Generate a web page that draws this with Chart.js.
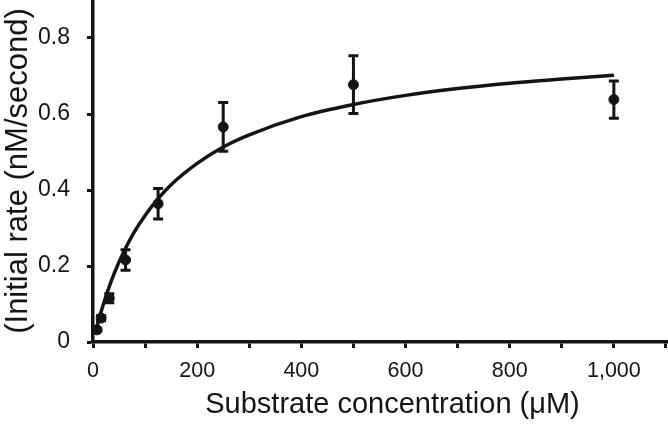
<!DOCTYPE html>
<html>
<head>
<meta charset="utf-8">
<script src="https://cdn.jsdelivr.net/npm/chart.js@4/dist/chart.umd.min.js"></script>
<style>
  html, body { margin: 0; padding: 0; background: #fff; overflow: hidden; }
  #wrap { width: 668px; height: 430px; overflow: hidden; }
  canvas { display: block; }
</style>
</head>
<body>
<div id="wrap"><canvas id="chart" width="692" height="430"></canvas></div>
<script>
// ===== DATA =====
const concentrations = [7.8, 15.6, 31.25, 62.5, 125, 250, 500, 1000];
const rates          = [0.032, 0.063, 0.115, 0.216, 0.364, 0.566, 0.677, 0.638];
const rateErrors     = [0.004, 0.007, 0.012, 0.027, 0.040, 0.064, 0.076, 0.049];

// fitted curve
const fitX = [7.8, 15, 25, 40, 60, 80, 100, 125, 150, 200, 250, 300, 400, 500, 600, 700, 800, 900, 1000];
const fitY = [0.042, 0.077, 0.121, 0.178, 0.240, 0.291, 0.333, 0.377, 0.414, 0.470, 0.513, 0.545, 0.593, 0.625, 0.649, 0.667, 0.681, 0.692, 0.702];

const xTicks = [0, 100, 200, 300, 400, 500, 600, 700, 800, 900, 1000, 1100];
const yTicks = [0, 0.2, 0.4, 0.6, 0.8];

const INK = "#141414";

// ===== ERROR BARS =====
const errorBars = {
  id: "errorBars",
  afterDatasetsDraw(chart) {
    const { ctx, scales: { x, y } } = chart;
    ctx.save();
    ctx.strokeStyle = INK;
    ctx.lineWidth = 3;
    concentrations.forEach((c, i) => {
      const px  = x.getPixelForValue(c);
      const top = y.getPixelForValue(rates[i] + rateErrors[i]);
      const bot = y.getPixelForValue(rates[i] - rateErrors[i]);
      ctx.beginPath();
      ctx.moveTo(px, top); ctx.lineTo(px, bot);
      ctx.moveTo(px - 5, top); ctx.lineTo(px + 5, top);
      ctx.moveTo(px - 5, bot); ctx.lineTo(px + 5, bot);
      ctx.stroke();
    });
    ctx.restore();
  }
};

// ===== CHART =====
new Chart(document.getElementById("chart"), {
  type: "scatter",
  data: {
    datasets: [
      {
        type: "line",
        data: fitX.map((v, i) => ({ x: v, y: fitY[i] })),
        borderColor: INK,
        borderWidth: 3.5,
        pointRadius: 0,
        cubicInterpolationMode: "monotone",
        fill: false
      },
      {
        data: concentrations.map((v, i) => ({ x: v, y: rates[i] })),
        backgroundColor: INK,
        borderColor: INK,
        pointRadius: 5,
        pointHoverRadius: 5
      }
    ]
  },
  options: {
    responsive: false,
    animation: false,
    devicePixelRatio: 1,
    layout: { padding: 0, autoPadding: false },
    plugins: { legend: { display: false }, tooltip: { enabled: false } },
    scales: {
      x: {
        type: "linear",
        min: 0,
        max: 1150,
        afterBuildTicks: s => { s.ticks = xTicks.map(v => ({ value: v })); },
        afterFit: s => { s.height = 88; s.paddingLeft = 0; s.paddingRight = 0; },
        grid: { drawOnChartArea: false, tickLength: 6, tickWidth: 3, tickColor: INK },
        border: { color: INK, width: 3.5 },
        ticks: {
          color: INK,
          padding: 10,
          maxRotation: 0,
          autoSkip: false,
          font: { family: "Liberation Sans, Arial", size: 21.5 },
          callback: v => (v % 200 === 0 ? v.toLocaleString("en-US") : "")
        },
        title: {
          display: true,
          text: "Substrate concentration (μM)",
          color: INK,
          padding: { top: 0, bottom: 8 },
          font: { family: "Liberation Sans, Arial", size: 29 }
        }
      },
      y: {
        min: 0,
        max: 0.9,
        afterBuildTicks: s => { s.ticks = yTicks.map(v => ({ value: v })); },
        afterFit: s => { s.width = 93; s.paddingTop = 0; s.paddingBottom = 0; },
        grid: { drawOnChartArea: false, tickLength: 6, tickWidth: 3, tickColor: INK },
        border: { color: INK, width: 3.5 },
        ticks: {
          color: INK,
          padding: 17,
          font: { family: "Liberation Sans, Arial", size: 23 },
          callback: v => (v === 0 ? "0" : v.toFixed(1))
        },
        title: {
          display: true,
          text: "(Initial rate (nM/second)",
          color: INK,
          padding: 0,
          font: { family: "Liberation Sans, Arial", size: 31 }
        }
      }
    }
  },
  plugins: [errorBars]
});
</script>
</body>
</html>
